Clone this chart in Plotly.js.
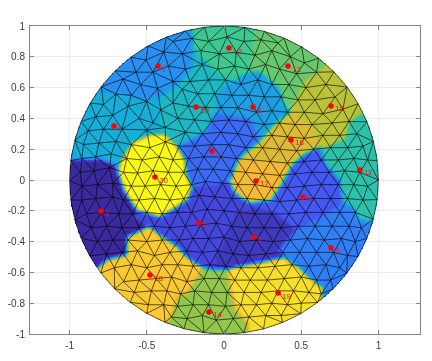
<!DOCTYPE html>
<html><head><meta charset="utf-8">
<script src="https://cdn.plot.ly/plotly-3.0.1.min.js"></script>
<style>html,body{margin:0;padding:0;background:#fff}#c{width:432px;height:361px;filter:blur(0.3px)}</style></head>
<body><div id="c"></div>
<script>
const xTickVals=[-1,-0.5,0,0.5,1];
const xTickText=['-1','-0.5','0','0.5','1'];
const yTickVals=[-1,-0.8,-0.6,-0.4,-0.2,0,0.2,0.4,0.6,0.8,1];
const yTickText=['-1','-0.8','-0.6','-0.4','-0.2','0','0.2','0.4','0.6','0.8','1'];
const seedLabels=['1','2','3','4','5','6','7','8','9','10','11','12','13','14','15','16','17','18','19','20'];
const seedX=[-.796,.194,-.162,.511,-.078,.693,-.427,.188,-.712,-.181,.880,.032,.414,-.097,.693,.434,.207,-.479,.350,-.447];
const seedY=[-.201,-.370,-.279,-.110,.188,-.441,.740,.474,.351,.474,.065,.857,.740,-.857,.481,.260,-.006,-.617,-.734,.019];
const regionValues=[1,2,3,4,5,6,7,8,9,10,11,12,13,14,15,16,17,18,19,20];
const region1=[[-.983,.130],[-.912,.130],[-.802,.136],[-.705,.097],[-.686,.052],[-.641,-.078],[-.589,-.240],[-.543,-.273],[-.628,-.370],[-.628,-.487],[-.757,-.519],[-.815,-.571],[-1.061,-.571],[-1.126,.130]];
const region2=[[.078,-.214],[.207,-.175],[.336,-.214],[.466,-.325],[.356,-.454],[.388,-.506],[.226,-.539],[.078,-.565],[-.052,-.584],[-.052,-.487],[.006,-.389]];
const region3=[[-.239,-.130],[-.207,-.045],[-.052,-.032],[.032,0],[.071,-.084],[.162,-.149],[.207,-.175],[.078,-.214],[.006,-.389],[-.052,-.487],[-.052,-.584],[-.136,-.571],[-.239,-.506],[-.304,-.435],[-.382,-.370],[-.511,-.292],[-.543,-.273],[-.589,-.240],[-.563,-.195],[-.414,-.240]];
const region4=[[.511,.162],[.615,.214],[.660,.097],[.751,0],[.770,-.149],[.679,-.214],[.466,-.325],[.336,-.214],[.207,-.175],[.162,-.149],[.304,-.130],[.369,-.032],[.433,.084]];
const region5=[[-.304,.214],[-.246,.247],[-.123,.312],[-.052,.435],[.052,.415],[.168,.402],[.239,.260],[.110,.149],[.091,.130],[.052,.013],[.032,0],[-.052,-.032],[-.207,-.045],[-.246,.032],[-.252,.130]];
const region6=[[.466,-.325],[.679,-.214],[.770,-.149],[.835,-.175],[.873,-.260],[.964,-.273],[1.042,-.519],[.653,-.811],[.628,-.766],[.641,-.701],[.550,-.636],[.485,-.571],[.388,-.506],[.356,-.454]];
const region7=[[-.835,.565],[-.692,.571],[-.543,.519],[-.414,.539],[-.304,.617],[-.201,.733],[-.201,.863],[-.207,.993],[-.207,1.103],[-.867,1.103],[-.996,.584]];
const region8=[[-.052,.552],[.032,.630],[.162,.701],[.239,.701],[.291,.649],[.356,.597],[.388,.487],[.433,.441],[.336,.370],[.239,.260],[.168,.402],[.052,.415],[-.052,.435]];
const region9=[[-.835,.565],[-.692,.571],[-.543,.519],[-.414,.539],[-.414,.292],[-.479,.292],[-.595,.240],[-.660,.130],[-.686,.052],[-.705,.097],[-.802,.136],[-.912,.130],[-1.126,.130],[-1.126,.565]];
const region10=[[-.414,.539],[-.304,.617],[-.201,.733],[-.201,.863],[-.123,.779],[-.052,.701],[.058,.649],[.162,.701],[.032,.630],[-.052,.552],[-.052,.435],[-.123,.312],[-.246,.247],[-.304,.214],[-.382,.292],[-.414,.292]];
const region11=[[.880,.428],[.809,.370],[.789,.273],[.660,.208],[.615,.214],[.660,.097],[.751,0],[.770,-.149],[.835,-.175],[.873,-.260],[.964,-.273],[1.106,-.325],[1.106,.428]];
const region12=[[-.207,.993],[-.207,1.103],[.201,1.103],[.201,.986],[.181,.844],[.162,.701],[.058,.649],[-.052,.701],[-.123,.779],[-.201,.863]];
const region13=[[.201,1.103],[.815,1.103],[.660,.746],[.531,.649],[.459,.519],[.433,.441],[.388,.487],[.356,.597],[.291,.649],[.239,.701],[.162,.701],[.181,.844],[.201,.986]];
const region14=[[-.052,-.584],[.026,-.584],[.045,-.714],[.078,-.844],[.155,-.928],[.168,-1.071],[-.414,-1.071],[-.369,-.928],[-.336,-.857],[-.304,-.759],[-.239,-.733],[-.201,-.668],[-.155,-.571]];
const region15=[[.815,1.103],[1.139,.428],[.880,.428],[.809,.370],[.789,.273],[.660,.208],[.615,.214],[.563,.357],[.446,.441],[.459,.519],[.531,.649],[.660,.746]];
const region16=[[.446,.441],[.563,.357],[.615,.214],[.511,.162],[.433,.084],[.298,.117],[.091,.130],[.110,.149],[.239,.260],[.336,.370],[.433,.441]];
const region17=[[.091,.130],[.052,.013],[.071,-.084],[.162,-.149],[.304,-.130],[.369,-.032],[.433,.084],[.298,.117]];
const region18=[[-.815,-.571],[-.757,-.519],[-.628,-.487],[-.628,-.370],[-.595,-.357],[-.531,-.325],[-.395,-.370],[-.304,-.435],[-.239,-.506],[-.136,-.571],[-.201,-.668],[-.239,-.733],[-.304,-.759],[-.336,-.857],[-.369,-.928],[-.479,-1.071],[-1.061,-.779]];
const region19=[[.026,-.584],[.078,-.565],[.226,-.539],[.388,-.506],[.485,-.571],[.550,-.636],[.641,-.701],[.628,-.766],[.751,-1.071],[.168,-1.071],[.155,-.928],[.078,-.844],[.045,-.714]];
const region20=[[-.686,.052],[-.660,.130],[-.595,.240],[-.479,.292],[-.382,.292],[-.304,.214],[-.252,.130],[-.246,.032],[-.207,-.045],[-.239,-.130],[-.414,-.240],[-.563,-.195],[-.641,-.078]];
const regions=[region1,region2,region3,region4,region5,region6,region7,region8,region9,region10,region11,region12,region13,region14,region15,region16,region17,region18,region19,region20];
const rimNodes=[[1,0],[.992,.125],[.968,.251],[.926,.378],[.869,.495],[.797,.604],[.712,.702],[.612,.791],[.503,.864],[.388,.922],[.262,.965],[.135,.991],[.004,1],[-.125,.992],[-.251,.968],[-.374,.927],[-.492,.871],[-.603,.798],[-.705,.709],[-.795,.606],[-.866,.5],[-.925,.38],[-.966,.258],[-.992,.126],[-1,-.004],[-.992,-.13],[-.966,-.258],[-.926,-.378],[-.87,-.493],[-.797,-.604],[-.708,-.706],[-.608,-.794],[-.5,-.866],[-.382,-.924],[-.258,-.966],[-.13,-.992],[0,-1],[.128,-.992],[.256,-.967],[.38,-.925],[.497,-.868],[.606,-.795],[.708,-.706],[.795,-.606],[.868,-.497],[.925,-.38],[.967,-.255],[.992,-.127]];
const innerNodes=[
[-.33,.90],[-.21,.92],[-.10,.90],[.02,.93],[.13,.90],[.24,.91],[.35,.89],
[-.505,.779],[-.39,.83],[-.27,.82],[-.15,.84],[-.03,.82],[.08,.83],[.20,.81],[.31,.84],[.43,.80],[.52,.76],
[-.57,.70],[-.46,.70],[-.36,.74],[-.25,.72],[-.14,.75],[-.04,.72],[.07,.74],[.16,.72],[.27,.75],[.36,.72],[.47,.69],[.60,.70],
[-.654,.656],[-.54,.62],[-.43,.595],[-.33,.64],[-.22,.64],[-.10,.65],[.01,.65],[.11,.62],[.22,.65],[.31,.62],[.42,.62],[.53,.60],[.66,.62],
[-.70,.558],[-.60,.55],[-.50,.51],[-.27,.59],[-.17,.56],[-.06,.56],[.05,.55],[.16,.55],[.26,.54],[.37,.54],[.48,.52],[.59,.52],[.72,.54],
[-.78,.49],[-.62,.48],[-.41,.455],[-.33,.50],[-.23,.48],[-.12,.47],[-.02,.47],[.09,.47],[.21,.44],[.31,.45],[.41,.44],[.52,.44],[.64,.43],[.77,.46],
[-.83,.41],[-.72,.42],[-.55,.40],[-.46,.37],[-.30,.40],[-.19,.39],[-.08,.38],[.03,.39],[.14,.38],[.26,.36],[.36,.37],[.46,.36],[.57,.36],[.70,.37],[.81,.38],
[-.88,.32],[-.78,.33],[-.66,.33],[-.50,.325],[-.38,.34],[-.25,.31],[-.14,.30],[-.02,.31],[.09,.30],[.19,.28],[.31,.29],[.41,.28],[.52,.27],[.64,.29],[.75,.29],[.86,.30],
[-.91,.23],[-.81,.24],[-.70,.25],[-.60,.23],[-.48,.21],[-.38,.247],[-.29,.22],[-.19,.22],[-.08,.23],[.03,.23],[.14,.21],[.25,.21],[.36,.20],[.47,.19],[.58,.20],[.69,.21],[.80,.21],[.90,.22],
[-.92,.14],[-.83,.15],[-.73,.17],[-.63,.14],[-.53,.13],[-.42,.15],[-.33,.13],[-.23,.14],[-.13,.15],[-.02,.15],[.08,.14],[.19,.13],[.30,.12],[.41,.11],[.52,.12],[.63,.13],[.74,.13],[.84,.14],[.93,.13],
[-.93,.05],[-.84,.06],[-.74,.08],[-.65,.05],[-.56,.045],[-.46,.06],[-.36,.05],[-.26,.05],[-.17,.07],[-.07,.07],[.04,.06],[.14,.05],[.25,.04],[.36,.03],[.46,.04],[.57,.05],[.68,.05],[.78,.06],[.88,.05],
[-.92,-.04],[-.82,-.03],[-.72,-.02],[-.60,-.04],[-.51,-.04],[-.41,-.03],[-.31,-.04],[-.21,-.03],[-.12,-.01],[-.01,-.02],[.09,-.03],[.20,-.03],[.31,-.05],[.41,-.05],[.52,-.04],[.63,-.03],[.74,-.03],[.84,-.03],[.93,-.04],
[-.92,-.13],[-.83,-.12],[-.72,-.11],[-.65,-.13],[-.55,-.13],[-.45,-.12],[-.35,-.13],[-.26,-.12],[-.16,-.10],[-.06,-.11],[.05,-.12],[.15,-.12],[.26,-.13],[.36,-.14],[.47,-.13],[.58,-.12],[.69,-.12],[.80,-.12],[.90,-.13],
[-.89,-.22],[-.79,-.21],[-.68,-.22],[-.59,-.22],[-.50,-.21],[-.40,-.22],[-.30,-.21],[-.21,-.21],[-.11,-.19],[0,-.20],[.10,-.21],[.20,-.22],[.31,-.22],[.42,-.22],[.53,-.21],[.64,-.21],[.75,-.21],[.85,-.21],
[-.86,-.31],[-.76,-.30],[-.66,-.31],[-.55,-.31],[-.45,-.30],[-.35,-.31],[-.25,-.30],[-.15,-.29],[-.05,-.28],[.05,-.30],[.15,-.31],[.26,-.31],[.37,-.31],[.48,-.30],[.59,-.30],[.70,-.30],[.81,-.30],[.89,-.31],
[-.82,-.40],[-.72,-.39],[-.62,-.39],[-.50,-.40],[-.40,-.39],[-.29,-.39],[-.20,-.38],[-.10,-.38],[0,-.37],[.10,-.40],[.21,-.39],[.32,-.40],[.43,-.39],[.54,-.38],[.65,-.39],[.76,-.38],[.85,-.40],
[-.76,-.48],[-.66,-.47],[-.56,-.46],[-.45,-.49],[-.35,-.47],[-.24,-.46],[-.14,-.47],[-.04,-.46],[.06,-.48],[.16,-.49],[.27,-.48],[.38,-.47],[.49,-.47],[.60,-.47],[.71,-.47],[.80,-.49],
[-.71,-.57],[-.60,-.55],[-.50,-.57],[-.40,-.55],[-.30,-.55],[-.20,-.56],[-.09,-.55],[.01,-.56],[.11,-.57],[.22,-.57],[.33,-.56],[.44,-.55],[.55,-.56],[.66,-.55],[.75,-.57],
[-.65,-.66],[-.55,-.65],[-.44,-.64],[-.34,-.63],[-.24,-.66],[-.13,-.64],[-.03,-.64],[.07,-.65],[.17,-.65],[.28,-.65],[.39,-.64],[.50,-.63],[.60,-.65],[.69,-.65],
[-.58,-.73],[-.47,-.72],[-.37,-.72],[-.28,-.74],[-.19,-.72],[-.08,-.73],[.02,-.73],[.13,-.73],[.24,-.73],[.35,-.72],[.45,-.72],[.55,-.73],[.63,-.74],
[-.49,-.81],[-.39,-.81],[-.30,-.82],[-.20,-.81],[-.10,-.81],[.01,-.82],[.11,-.81],[.21,-.81],[.31,-.80],[.41,-.81],[.50,-.80],
[-.34,-.89],[-.24,-.90],[-.14,-.88],[-.05,-.91],[.06,-.90],[.16,-.89],[.27,-.88],[.37,-.88]
];
const colorStops=[[0,'#3a2a9e'],[.143,'#4752f4'],[.286,'#2d87f7'],[.43,'#12b1d6'],[.571,'#37c897'],[.714,'#abc738'],[.80,'#e3b934'],[.857,'#fbbb36'],[.93,'#f7d72f'],[1,'#f9fb15']];

function inside(p,x,y){let c=false;for(let i=0,j=p.length-1;i<p.length;j=i++){const a=p[i],b=p[j];
 if((a[1]>y)!==(b[1]>y)&&x<(b[0]-a[0])*(y-a[1])/(b[1]-a[1])+a[0])c=!c;}return c;}
const step=0.005,lo=-1.03,N=413;
const gx=[],gy=[];for(let i=0;i<N;i++){gx.push(lo+i*step);gy.push(lo+i*step);}
let field=[];
for(let j=0;j<N;j++){const row=new Float64Array(N);for(let i=0;i<N;i++){
 let v=0;for(let r=regions.length-1;r>=0;r--){if(inside(regions[r],gx[i],gy[j])){v=regionValues[r];break;}}
 if(!v){let best=1e9;for(let s=0;s<seedX.length;s++){const d=(seedX[s]-gx[i])**2+(seedY[s]-gy[j])**2;if(d<best){best=d;v=regionValues[s];}}}
 row[i]=v;}field.push(row);}
function blur(f,rad){const h=f.map(()=>new Float64Array(N));
 for(let j=0;j<N;j++){for(let i=0;i<N;i++){let s=0,c=0;for(let k=-rad;k<=rad;k++){const t=i+k;if(t>=0&&t<N){s+=f[j][t];c++;}}h[j][i]=s/c;}}
 const o=f.map(()=>new Float64Array(N));
 for(let j=0;j<N;j++){for(let i=0;i<N;i++){let s=0,c=0;for(let k=-rad;k<=rad;k++){const t=j+k;if(t>=0&&t<N){s+=h[t][i];c++;}}o[j][i]=s/c;}}
 return o;}
field=blur(blur(field,2),2);
const z=field.map((r,j)=>Array.from(r,(v,i)=>(gx[i]*gx[i]+gy[j]*gy[j]<=1)?v:null));

const nodes=rimNodes.concat(innerNodes);
function delaunay(pts){const P=pts.concat([[-10,-10],[10,-10],[0,15]]);const n=pts.length;let T=[[n,n+1,n+2]];
 const cc=t=>{const[a,b,c]=t.map(i=>P[i]);const d=2*(a[0]*(b[1]-c[1])+b[0]*(c[1]-a[1])+c[0]*(a[1]-b[1]));
  const s=q=>q[0]*q[0]+q[1]*q[1];const ux=(s(a)*(b[1]-c[1])+s(b)*(c[1]-a[1])+s(c)*(a[1]-b[1]))/d;const uy=(s(a)*(c[0]-b[0])+s(b)*(a[0]-c[0])+s(c)*(b[0]-a[0]))/d;
  return[ux,uy,(a[0]-ux)**2+(a[1]-uy)**2];};
 for(let i=0;i<n;i++){const bad=[],keep=[];for(const t of T){const c=cc(t);((P[i][0]-c[0])**2+(P[i][1]-c[1])**2<c[2]?bad:keep).push(t);}
  const m=new Map();for(const t of bad)for(let k=0;k<3;k++){const u=t[k],v=t[(k+1)%3];const key=u<v?u+'_'+v:v+'_'+u;m.set(key,(m.get(key)||0)+1);}
  for(const[key,c]of m){if(c===1){const[u,v]=key.split('_').map(Number);keep.push([u,v,i]);}}T=keep;}
 return T.filter(t=>t.every(i=>i<n));}
const tris=delaunay(nodes);const seen=new Set();const ex=[],ey=[];
for(const t of tris)for(let k=0;k<3;k++){const u=t[k],v=t[(k+1)%3];const key=u<v?u+'_'+v:v+'_'+u;if(seen.has(key))continue;seen.add(key);
 ex.push(nodes[u][0],nodes[v][0],null);ey.push(nodes[u][1],nodes[v][1],null);}

const traces=[
{type:'heatmap',x:gx,y:gy,z:z,zmin:1,zmax:20,colorscale:colorStops,showscale:false,zsmooth:false,hoverinfo:'skip'},
{type:'scatter',mode:'lines',x:ex,y:ey,line:{color:'rgba(0,0,0,0.9)',width:0.7},hoverinfo:'skip',showlegend:false},
{type:'scatter',mode:'markers',x:seedX,y:seedY,marker:{color:'#ff0000',size:5.5},showlegend:false}
];
const seedNotes=seedLabels.map((t,i)=>({x:seedX[i],y:seedY[i],text:t,showarrow:false,xanchor:'left',yanchor:'middle',xshift:3,yshift:-3,borderpad:0,font:{family:'Liberation Sans',size:8,color:'#e81818'}}));
const axisBase={showgrid:true,gridcolor:'#ececec',gridwidth:1,zeroline:false,showline:true,linecolor:'#858585',linewidth:1,mirror:'ticks',ticks:'inside',ticklen:4,tickwidth:1,tickcolor:'#858585',tickfont:{family:'Liberation Sans',size:10,color:'#3c3c3c'}};
const layout={width:432,height:361,margin:{l:30,r:12,t:26,b:27},paper_bgcolor:'#fff',plot_bgcolor:'#fff',showlegend:false,annotations:seedNotes,
 xaxis:Object.assign({},axisBase,{range:[-1.256,1.269],tickmode:'array',tickvals:xTickVals,ticktext:xTickText,ticklabelstandoff:2}),
 yaxis:Object.assign({},axisBase,{range:[-1,1],tickmode:'array',tickvals:yTickVals,ticktext:yTickText,ticklabelstandoff:2})};
Plotly.newPlot('c',traces,layout,{displayModeBar:false,staticPlot:true});
</script></body></html>
